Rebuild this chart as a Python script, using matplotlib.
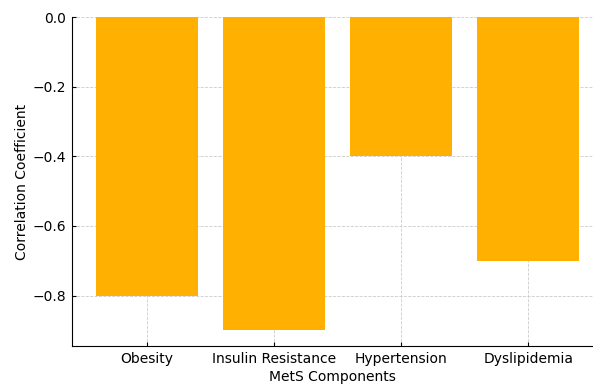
import matplotlib
matplotlib.use("Agg")
import matplotlib.pyplot as plt

categories = ["Obesity", "Insulin Resistance", "Hypertension", "Dyslipidemia"]
values = [-0.8, -0.9, -0.4, -0.7]

fig = plt.figure(figsize=(5.93, 3.87), dpi=100)
ax = fig.add_axes([0.1214, 0.1059, 0.8786, 0.8501])
ax.bar(categories, values, color="#FFB000", width=0.8, zorder=2)
ax.set_xlim(-0.59, 3.51)
ax.set_ylim(-0.945, 0.0)
ax.grid(True, linestyle="--", color="#cccccc", linewidth=0.6, zorder=0)
for s in ["top", "right"]:
    ax.spines[s].set_visible(False)
ax.tick_params(labelsize=10, length=3, pad=4, width=0.8, direction="in")
ax.set_xlabel("MetS Components", fontsize=10, labelpad=3.5)
ax.set_ylabel("Correlation Coefficient", fontsize=10, labelpad=3)
fig.savefig("out.png", dpi=100)
